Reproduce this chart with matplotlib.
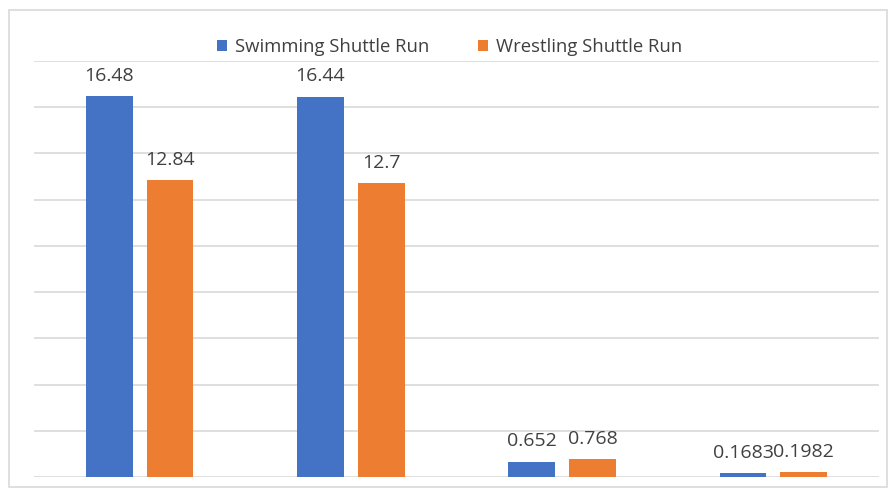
import matplotlib.pyplot as plt
import numpy as np
from matplotlib.patches import Rectangle

##-Data
groups = ['1', '2', '3', '4']
swimming = [16.48, 16.44, 0.652, 0.1683]
wrestling = [12.84, 12.7, 0.768, 0.1982]
series_labels = ['Swimming Shuttle Run', 'Wrestling Shuttle Run']
blue = '#4472C4'
orange = '#ED7D31'

##-Plot
plt.rcParams['font.family'] = ['Open Sans', 'DejaVu Sans']

fig = plt.figure(figsize=(8.9, 4.9), dpi=100)
ax = fig.add_axes([34 / 890, 1 - 477 / 490, (879 - 34) / 890, (477 - 61) / 490])

x = np.arange(len(groups))
w = 0.222
off = 0.144
b1 = ax.bar(x - off, swimming, w, color=blue, label=series_labels[0], zorder=3)
b2 = ax.bar(x + off, wrestling, w, color=orange, label=series_labels[1], zorder=3)

for bars, vals in ((b1, swimming), (b2, wrestling)):
    for r, v in zip(bars, vals):
        ax.text(r.get_x() + r.get_width() / 2, v + 0.5, f'{v:g}',
                ha='center', va='bottom', fontsize=14, color='#404040')

ax.set_xlim(-0.5, 3.5)
ax.set_ylim(0, 18)
ax.set_yticks(np.arange(0, 19, 2))
ax.grid(axis='y', color='#D9D9D9', linewidth=1.2, zorder=0)
ax.tick_params(left=False, bottom=False, labelleft=False, labelbottom=False)
for s in ax.spines.values():
    s.set_visible(False)

fig.legend(loc='center', bbox_to_anchor=(0.505, 1 - 47 / 490), ncol=2, frameon=False,
           fontsize=13.3, handlelength=0.55, handleheight=0.55, handletextpad=0.45,
           columnspacing=2.6, labelcolor='#404040')

fig.patches.append(Rectangle((9 / 890, 3 / 490), 878 / 890, 477 / 490, transform=fig.transFigure,
                             fill=False, edgecolor='#D9D9D9', linewidth=1.2))

fig.savefig('out.png', dpi=100)
